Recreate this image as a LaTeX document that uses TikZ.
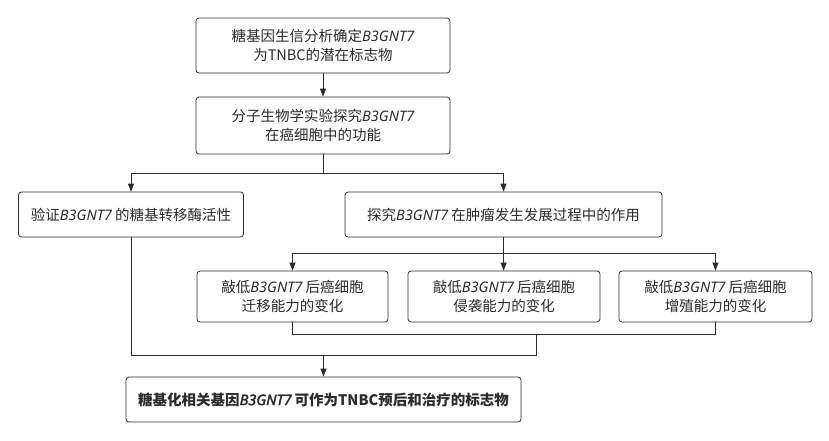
\documentclass[tikz,border=0pt]{standalone}
\usepackage{fontspec}
\setmainfont{Noto Sans CJK SC}
\newfontfamily\genefont{Noto Sans}
\newfontfamily\genebf[FakeBold=2.5]{Noto Sans}
\usetikzlibrary{arrows.meta}
\definecolor{ink}{HTML}{2B2B2B}
\newcommand{\gn}{{\genefont\itshape B3GNT7}}
\newcommand{\gs}{\hspace{3pt}}
\begin{document}
\begin{tikzpicture}[x=1pt,y=-1pt,
  box/.style={draw=ink,line width=0.8pt,rounded corners=3pt,fill=white,
    text=ink,align=center,inner sep=0pt,font=\fontsize{14.5}{18.5}\selectfont},
  arr/.style={draw=ink,line width=0.8pt,-{Triangle[length=8pt,width=6pt]}},
  ln/.style={draw=ink,line width=0.8pt}]
\useasboundingbox (0,0) rectangle (829,440);
\node[box,minimum width=254pt,minimum height=55pt] (b1) at (323,45.5) {糖基因生信分析确定\gn\\为TNBC的潜在标志物};
\node[box,minimum width=254pt,minimum height=57pt] (b2) at (323,125.5) {分子生物学实验探究\gn\\在癌细胞中的功能};
\node[box,minimum width=225pt,minimum height=45pt] (l3) at (131,214.5) {验证\gn\gs 的糖基转移酶活性};
\node[box,minimum width=317pt,minimum height=45pt] (r3) at (503.5,214.5) {探究\gn\gs 在肿瘤发生发展过程中的作用};
\node[box,minimum width=191pt,minimum height=51pt] (ra) at (292.5,296.5) {敲低\gn\gs 后癌细胞\\迁移能力的变化};
\node[box,minimum width=192pt,minimum height=51pt] (rb) at (504,296.5) {敲低\gn\gs 后癌细胞\\侵袭能力的变化};
\node[box,minimum width=193pt,minimum height=51pt] (rc) at (715.5,296.5) {敲低\gn\gs 后癌细胞\\增殖能力的变化};
\node[box,minimum width=395pt,minimum height=45pt,font=\fontsize{14.5}{18.5}\selectfont\bfseries] (d) at (323.5,399.5) {糖基化相关基因{\genebf\itshape B3GNT7}\gs 可作为TNBC预后和治疗的标志物};
\coordinate (j1) at (323,173);
\coordinate (j2) at (503.5,253);
\coordinate (j3) at (292.5,334);
\coordinate (m1) at (536.5,334);
\coordinate (m2) at (536.5,355);
\coordinate (m3) at (323.5,355);
\draw[arr] (b1) -- (b2);
\draw[ln] (b2) -- (j1);
\draw[arr] (j1) -| (l3);
\draw[arr] (j1) -| (r3);
\draw[ln] (r3) -- (j2);
\draw[arr] (j2) -| (ra);
\draw[arr] (j2) -- (rb);
\draw[arr] (j2) -| (rc);
\draw[ln] (ra) -- (j3) -| (rc);
\draw[ln] (m1) -- (m2) -| (l3);
\draw[arr] (m3) -- (d);
\end{tikzpicture}
\end{document}
